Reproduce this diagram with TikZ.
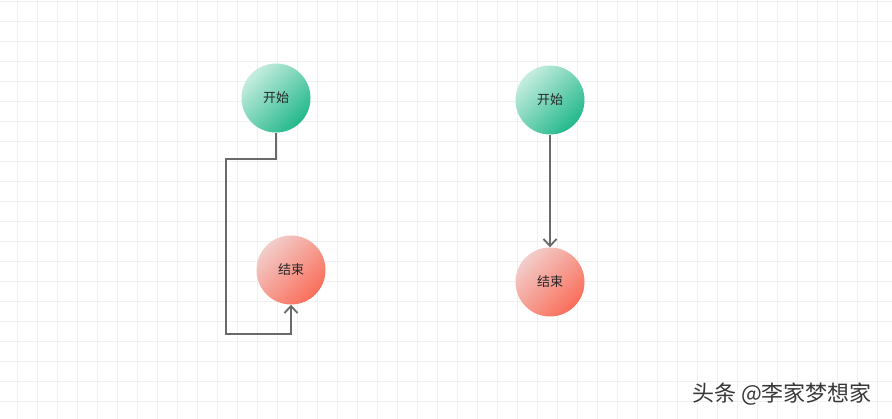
\documentclass[tikz,border=0pt]{standalone}
\usepackage{fontspec}
\newfontfamily\cjk{Noto Sans CJK SC}
\usetikzlibrary{arrows.meta}
\definecolor{gridc}{HTML}{F0F0F0}
\definecolor{tealL}{HTML}{C6EDE0}
\definecolor{tealD}{HTML}{22B88A}
\definecolor{pinkL}{HTML}{F2CDCA}
\definecolor{pinkD}{HTML}{FA6E5A}
\definecolor{linec}{HTML}{6A6A6A}
\tikzset{
  startc/.style={circle, minimum size=69pt, inner sep=0pt, shading=axis, top color=tealL, bottom color=tealD, shading angle=45, font=\cjk\fontsize{13}{13}\selectfont, text=black!85},
  endc/.style={circle, minimum size=69pt, inner sep=0pt, shading=axis, top color=pinkL, bottom color=pinkD, shading angle=45, font=\cjk\fontsize{13}{13}\selectfont, text=black!85},
  conn/.style={draw=linec, line width=2pt, -{Straight Barb[length=7pt,width=13pt,line width=1.8pt]}},
}
\begin{document}
\begin{tikzpicture}[x=1pt,y=-1pt]
\useasboundingbox (0,0) rectangle (892,419);
\fill[white] (0,0) rectangle (892,419);
\foreach \gx in {17,37,...,892} \draw[gridc, line width=1pt] (\gx,0) -- (\gx,419);
\foreach \gy in {2,22,...,419} \draw[gridc, line width=1pt] (0,\gy) -- (892,\gy);
\node[startc] (s1) at (276,98) {开始};
\node[endc] (e1) at (291,270) {结束};
\node[startc] (s2) at (550,100) {开始};
\node[endc] (e2) at (550,282) {结束};
\coordinate (a) at (226,159);
\coordinate (b) at (226,334);
\draw[conn] (s1.south) |- (a) -- (b) -| (e1.south);
\draw[conn] (s2.south) -- (e2.north);
\node[font=\cjk\fontsize{22}{22}\selectfont, text=black!78, anchor=west, inner sep=0pt] (wm) at (692,393.6) {头条 @李家梦想家};
\end{tikzpicture}
\end{document}
